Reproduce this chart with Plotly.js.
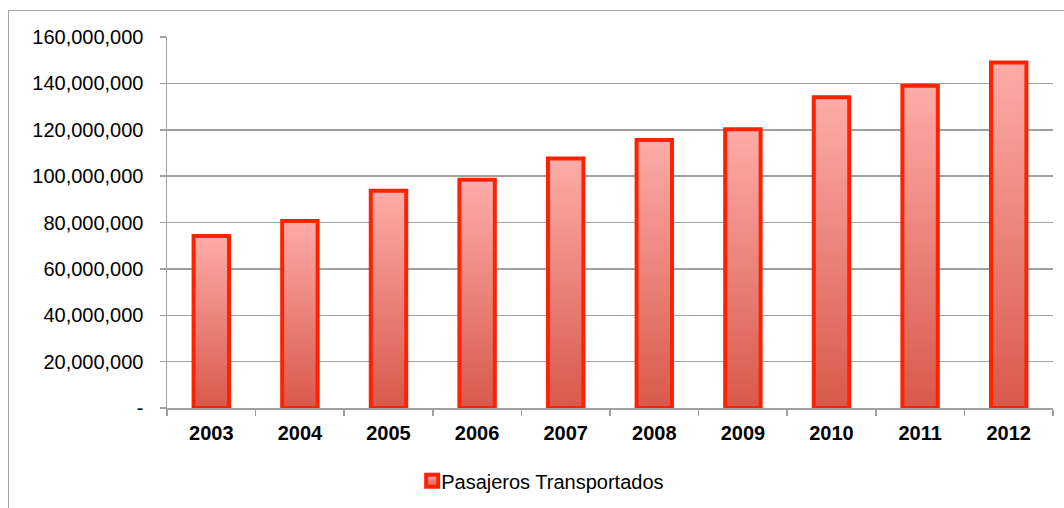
<!DOCTYPE html>
<html>
<head>
<meta charset="utf-8">
<script src="https://cdn.plot.ly/plotly-3.0.1.min.js"></script>
<style>
  html, body { margin: 0; padding: 0; background: #fff; overflow: hidden; }
  #wrap { position: relative; width: 1064px; height: 508px; }
  #chart { position: absolute; left: 0; top: 0; width: 1064px; height: 508px; }
  #frame { position: absolute; left: 8px; top: 10px; width: 1200px; height: 700px;
           border: 1.5px solid #a6a6a6; pointer-events: none; box-sizing: border-box; }
</style>
</head>
<body>
<div id="wrap">
  <div id="chart"></div>
  <div id="frame"></div>
</div>
<script>
const years = ["2003", "2004", "2005", "2006", "2007", "2008", "2009", "2010", "2011", "2012"];
const pasajeros = [74200000, 80700000, 93700000, 98400000, 107600000, 115600000, 120200000, 134000000, 139000000, 149000000];
const seriesName = "Pasajeros Transportados";
const yTickVals = [0, 20000000, 40000000, 60000000, 80000000, 100000000, 120000000, 140000000, 160000000];
const yTickText = ["-", "20,000,000", "40,000,000", "60,000,000", "80,000,000", "100,000,000", "120,000,000", "140,000,000", "160,000,000"];

const FONT = "'Liberation Sans', Arial, Helvetica, sans-serif";

const trace = {
  type: "bar",
  x: years,
  y: pasajeros,
  name: seriesName,
  width: 0.4,
  showlegend: true,
  marker: { color: "#ec7f76", line: { color: "#ff2200", width: 4 } }
};

const layout = {
  width: 1064, height: 508,
  margin: { l: 167, r: 11, t: 37, b: 100, autoexpand: false },
  paper_bgcolor: "rgba(0,0,0,0)",
  plot_bgcolor: "rgba(0,0,0,0)",
  font: { family: FONT, size: 20, color: "#000" },
  showlegend: true,
  bargap: 0.6,
  xaxis: {
    type: "category",
    showgrid: false,
    showline: true, linecolor: "#a0a0a0", linewidth: 1.5,
    ticks: "outside", tickson: "boundaries", ticklen: 6, tickcolor: "#a0a0a0", tickwidth: 1.5,
    tickfont: { family: FONT, size: 20, color: "#000", weight: "bold" },
    ticklabelstandoff: 6,
    zeroline: false, fixedrange: true, automargin: false
  },
  yaxis: {
    range: [0, 160000000],
    tickvals: yTickVals, ticktext: yTickText,
    showgrid: true, gridcolor: "#a0a0a0", gridwidth: 1.5,
    showline: true, linecolor: "#a0a0a0", linewidth: 1.5,
    ticks: "outside", ticklen: 6, tickcolor: "#a0a0a0", tickwidth: 1.5,
    tickfont: { family: FONT, size: 20, color: "#000" },
    ticklabelstandoff: 12,
    zeroline: false, fixedrange: true, automargin: false
  },
  legend: {
    orientation: "h",
    x: 0.2643, xanchor: "left",
    y: -0.196, yanchor: "middle",
    font: { family: FONT, size: 20, color: "#000" },
    bgcolor: "rgba(0,0,0,0)"
  }
};

const gd = document.getElementById("chart");

function applyGradient() {
  const svg = gd.querySelector("svg.main-svg");
  if (!svg) return;
  const ns = "http://www.w3.org/2000/svg";
  if (!svg.querySelector("#barGrad")) {
    let defs = svg.querySelector("defs");
    if (!defs) { defs = document.createElementNS(ns, "defs"); svg.insertBefore(defs, svg.firstChild); }
    const lg = document.createElementNS(ns, "linearGradient");
    lg.setAttribute("id", "barGrad");
    lg.setAttribute("x1", "0"); lg.setAttribute("y1", "0");
    lg.setAttribute("x2", "0"); lg.setAttribute("y2", "1");
    const s1 = document.createElementNS(ns, "stop");
    s1.setAttribute("offset", "0"); s1.setAttribute("stop-color", "#fdaca8");
    const s2 = document.createElementNS(ns, "stop");
    s2.setAttribute("offset", "1"); s2.setAttribute("stop-color", "#d8594b");
    lg.appendChild(s1); lg.appendChild(s2);
    defs.appendChild(lg);
  }
  gd.querySelectorAll(".barlayer .point path").forEach(p => {
    p.style.fill = "url(#barGrad)";
    p.style.fillOpacity = "1";
  });
  gd.querySelectorAll(".legend .legendpoints path").forEach(p => {
    p.style.fill = "url(#barGrad)";
    p.style.fillOpacity = "1";
    p.setAttribute("transform", "translate(31,0)");
  });
}

Plotly.newPlot(gd, [trace], layout, { staticPlot: true, displayModeBar: false }).then(() => {
  applyGradient();
  gd.on("plotly_afterplot", applyGradient);
});
</script>
</body>
</html>
